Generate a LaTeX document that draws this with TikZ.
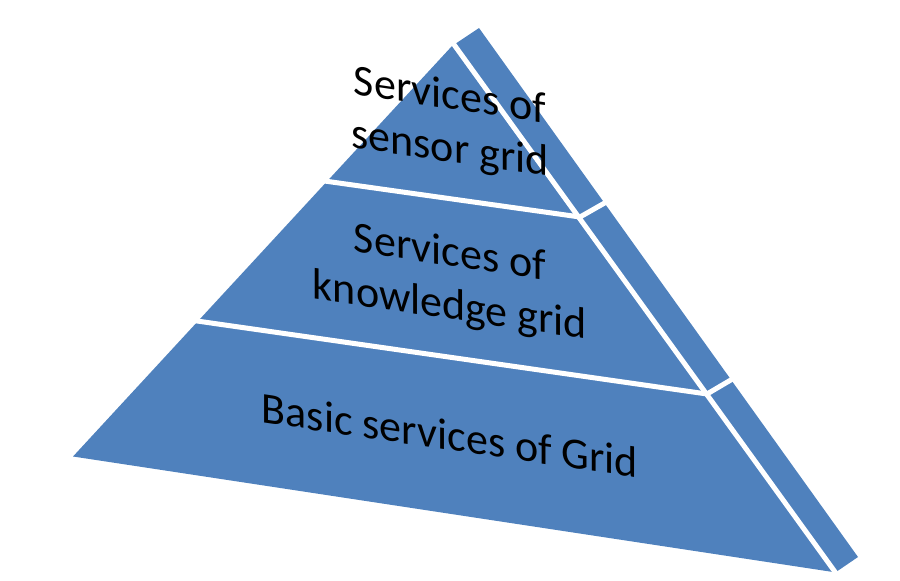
\documentclass[tikz,border=0pt]{standalone}
\usepackage{fontspec}
\newfontfamily\carlito{Carlito}
\definecolor{pblue}{RGB}{79,129,189}
\begin{document}
\begin{tikzpicture}[x=1pt,y=-1pt,
  face/.style={fill=pblue,draw=none},
  sep/.style={draw=white,line width=5pt,line cap=butt,line join=miter},
  lbl/.style={font=\carlito\fontsize{44}{53}\selectfont,align=center,text=black,
    inner sep=0pt,yslant=-0.147}]
\useasboundingbox (0,0) rectangle (900,581);
% front face corners
\coordinate (A) at (452,46);
\coordinate (L) at (73,456.5);
\coordinate (R) at (833,572);
% side face corners
\coordinate (S1) at (452,46);
\coordinate (S2) at (479,28);
\coordinate (S3) at (858,557);
\coordinate (S4) at (836,572);
% separators
\coordinate (E1) at (452.8,42.9);
\coordinate (E2) at (835.8,573);
\coordinate (a1) at (321,180.5);
\coordinate (b1) at (580,217);
\coordinate (c1) at (609,200.5);
\coordinate (a2) at (190,320);
\coordinate (b2) at (707,394);
\coordinate (c2) at (735,377.5);
\fill[face] (A) -- (L) -- (R) -- cycle;
\fill[face] (S1) -- (S2) -- (S3) -- (S4) -- cycle;
\draw[sep] (E1) -- (E2);
\draw[sep] (a1) -- (b1) -- (c1);
\draw[sep] (a2) -- (b2) -- (c2);
\node[lbl] (sensor) at (450,124) {Services of\\sensor grid};
\node[lbl] (knowledge) at (450,281) {Services of\\knowledge grid};
\node[lbl] (basic) at (450,435) {Basic services of Grid};
\end{tikzpicture}
\end{document}
